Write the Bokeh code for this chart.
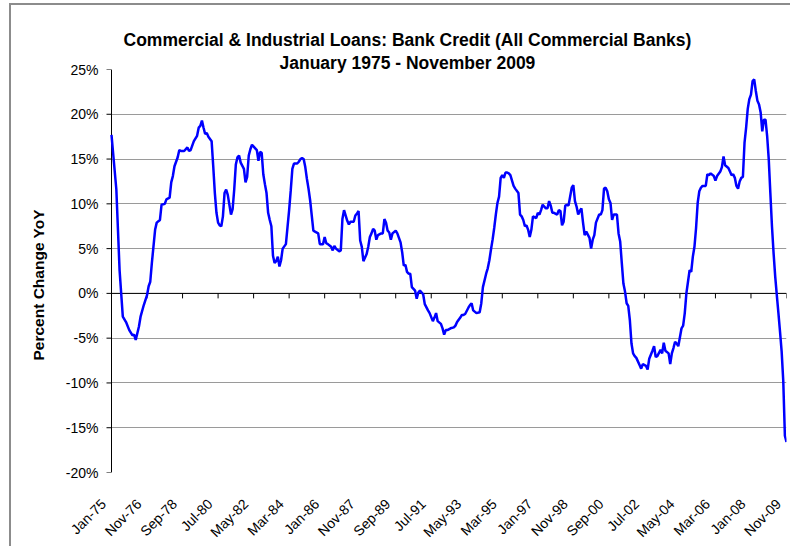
from math import pi
from bokeh.plotting import figure
from bokeh.models import Range1d, FixedTicker, Title, Grid, BoxAnnotation
from bokeh.embed import file_html
from bokeh.resources import INLINE

# ---- data: C&I loans, % change YoY (months since Jan 1975) ----
month_index = [
    0, 3, 4, 5, 6, 7, 9, 11, 13, 14, 15, 17, 18, 20, 22, 23, 24, 25, 27, 28,
    30, 31, 33, 34, 36, 37, 38, 39, 41, 42, 43, 45, 47, 48, 49, 51, 53, 54, 55, 56,
    57, 58, 59, 60, 62, 63, 64, 65, 66, 67, 68, 69, 70, 71, 72, 74, 75, 76, 77, 78,
    79, 80, 82, 83, 84, 85, 86, 87, 89, 90, 91, 92, 93, 94, 95, 96, 97, 98, 99, 100,
    101, 102, 103, 104, 105, 106, 108, 109, 110, 111, 112, 113, 115, 116, 117, 118, 119, 120, 121, 122,
    123, 124, 125, 126, 128, 129, 131, 132, 133, 134, 136, 137, 138, 139, 141, 142, 143, 144, 146, 147,
    148, 150, 151, 152, 153, 154, 155, 156, 158, 159, 160, 161, 162, 163, 164, 165, 167, 168, 169, 170,
    171, 172, 173, 174, 176, 177, 179, 180, 181, 182, 183, 184, 185, 186, 188, 189, 190, 191, 193, 194,
    196, 197, 199, 200, 201, 202, 204, 205, 206, 207, 208, 210, 212, 213, 214, 216, 217, 218, 219, 221,
    222, 223, 224, 226, 228, 229, 230, 232, 233, 234, 235, 236, 237, 238, 239, 240, 241, 242, 243, 244,
    245, 246, 247, 249, 250, 252, 253, 254, 255, 256, 257, 258, 259, 260, 261, 263, 264, 265, 266, 267,
    269, 270, 271, 272, 273, 274, 276, 277, 278, 279, 280, 281, 282, 283, 285, 286, 287, 288, 289, 290,
    291, 292, 293, 294, 296, 297, 298, 299, 300, 302, 303, 304, 305, 306, 307, 308, 309, 310, 311, 313,
    314, 315, 316, 317, 318, 319, 320, 321, 322, 323, 324, 325, 327, 328, 329, 331, 332, 333, 335, 336,
    337, 338, 340, 341, 342, 343, 345, 346, 347, 348, 349, 350, 351, 352, 353, 354, 355, 356, 357, 358,
    359, 360, 361, 362, 363, 364, 365, 366, 368, 369, 370, 371, 373, 374, 375, 377, 378, 379, 380, 382,
    383, 384, 385, 386, 387, 388, 389, 390, 391, 392, 393, 394, 395, 396, 397, 398, 399, 400, 401, 402,
    403, 404, 405, 406, 407, 408, 409, 410, 411, 412, 413, 414, 415, 416, 417, 418,
]
yoy_pct = [
    17.7, 11.6, 7.1, 2.6, 0.0, -2.6, -3.2, -4.1, -4.7, -4.6, -5.2, -3.7, -2.6, -1.3, -0.2, 0.8, 1.3, 3.4, 7.1, 7.9,
    8.2, 9.9, 10.0, 10.5, 10.7, 12.4, 13.1, 14.2, 15.2, 16.0, 15.9, 15.9, 16.3, 15.9, 16.0, 17.0, 17.6, 18.5, 18.7, 19.3,
    18.5, 17.8, 17.9, 17.5, 17.0, 14.2, 11.2, 9.0, 7.9, 7.6, 7.5, 8.6, 11.2, 11.6, 11.0, 8.8, 9.4, 11.6, 14.4, 15.2,
    15.4, 14.6, 13.9, 12.4, 13.0, 15.4, 16.1, 16.6, 16.2, 16.0, 14.8, 15.8, 15.7, 13.3, 12.2, 11.2, 9.0, 8.2, 7.5, 4.2,
    3.4, 3.6, 4.1, 3.0, 3.7, 5.0, 5.5, 7.4, 9.3, 11.5, 13.9, 14.5, 14.5, 14.7, 15.0, 15.1, 15.0, 14.1, 12.8, 11.7,
    10.4, 8.7, 7.0, 6.9, 6.7, 5.5, 5.5, 6.3, 5.6, 5.5, 5.2, 4.8, 5.3, 5.0, 4.7, 4.8, 8.3, 9.3, 8.1, 7.7,
    8.0, 8.0, 8.7, 8.9, 9.2, 5.9, 5.2, 3.6, 4.4, 5.2, 6.3, 6.7, 7.2, 7.0, 6.0, 6.5, 6.7, 6.7, 8.3, 7.9,
    7.0, 6.8, 6.0, 6.7, 7.0, 6.7, 5.7, 4.6, 3.1, 3.2, 2.4, 2.2, 2.2, 0.7, 0.3, -0.6, 0.1, 0.3, -0.1, -1.2,
    -1.9, -2.2, -3.1, -2.7, -2.2, -3.1, -3.4, -3.9, -4.6, -4.1, -4.1, -3.9, -3.8, -3.6, -3.2, -2.7, -2.4, -2.4, -2.3, -1.6,
    -1.3, -1.1, -1.9, -2.2, -2.1, -1.1, 0.7, 2.2, 2.8, 3.7, 4.9, 6.0, 7.3, 8.8, 10.1, 10.8, 12.9, 13.2, 12.9, 13.5,
    13.5, 13.4, 13.2, 12.0, 11.7, 11.2, 8.8, 8.6, 8.2, 7.5, 7.6, 7.1, 6.3, 7.1, 8.6, 8.4, 9.0, 8.8, 9.3, 9.9,
    9.5, 9.5, 10.3, 9.8, 9.0, 9.0, 8.8, 9.3, 9.2, 7.6, 8.0, 9.8, 9.9, 9.8, 11.8, 12.1, 10.3, 9.7, 8.8, 9.2,
    9.5, 7.9, 6.5, 6.9, 6.2, 5.0, 6.0, 6.5, 7.9, 8.8, 8.8, 9.3, 11.7, 11.8, 11.4, 10.5, 10.1, 8.2, 8.8, 8.8,
    6.7, 5.8, 3.4, 1.1, 0.2, -1.1, -1.4, -3.0, -5.6, -6.7, -7.0, -7.2, -8.0, -8.4, -7.9, -8.1, -8.5, -7.3, -6.4, -5.9,
    -7.1, -7.0, -6.3, -6.7, -5.5, -6.4, -6.7, -7.9, -6.7, -6.1, -5.4, -5.6, -5.9, -4.9, -3.9, -3.6, -2.2, 0.0, 1.3, 2.6,
    2.4, 4.1, 5.2, 7.3, 10.1, 11.4, 11.8, 12.0, 12.0, 13.3, 13.2, 13.4, 13.1, 12.6, 13.1, 13.6, 14.1, 15.3, 14.3, 14.0,
    13.6, 13.2, 13.3, 12.9, 12.0, 11.7, 12.5, 12.9, 13.0, 16.8, 18.5, 20.6, 21.7, 22.2, 23.7, 23.9, 22.6, 21.5, 21.1, 20.2,
    18.1, 19.4, 19.4, 17.6, 15.0, 11.2, 7.5, 4.5, 1.9, -0.2, -2.2, -4.3, -6.5, -9.8, -15.9, -16.6,
]
tick_labels = ["Jan-75", "Nov-76", "Sep-78", "Jul-80", "May-82", "Mar-84", "Jan-86",
               "Nov-87", "Sep-89", "Jul-91", "May-93", "Mar-95", "Jan-97", "Nov-98",
               "Sep-00", "Jul-02", "May-04", "Mar-06", "Jan-08", "Nov-09"]
tick_step = 22
y_ticks = [-20, -15, -10, -5, 0, 5, 10, 15, 20, 25]

title_1 = "Commercial & Industrial Loans: Bank Credit (All Commercial Banks)"
title_2 = "January 1975 - November 2009"
y_title = "Percent Change YoY"

FONT = "Liberation Sans"
OX, OY = 11, 5                      # canvas offset inside the page (outer border)
W, H = 792 - OX, 548 - OY
AX, FR, FT, FB = 100, 775, 64, 467  # y-axis x, frame right/top/bottom (canvas px)
PAD = 9                             # extra frame room left of the y axis (for labels)
LABEL_SHIFT = 8                     # x labels end a little left of their tick
TICK = 5                            # tick mark length, px
x_end = tick_step * (len(tick_labels) - 1)
x_ticks = [i * tick_step for i in range(len(tick_labels))]
px_per_x = (FR - AX) / x_end
px_per_y = (FB - FT) / (y_ticks[-1] - y_ticks[0])
x_lo = -PAD / px_per_x

p = figure(width=W, height=H, output_backend="svg", toolbar_location=None, tools="",
           x_range=Range1d(x_lo, x_end), y_range=Range1d(y_ticks[0], y_ticks[-1]),
           min_border_left=AX - PAD, min_border_right=W - FR, min_border_top=FT,
           min_border_bottom=H - FB)
p.styles = {"margin-left": "9px", "margin-top": "3px",
            "border-left": "2px solid #8c8c8c", "border-top": "2px solid #8c8c8c"}
p.background_fill_color = "white"
p.border_fill_color = "white"
p.outline_line_color = None
p.xgrid.visible = False
p.ygrid.ticker = FixedTicker(ticks=y_ticks[1:-1])
p.ygrid.grid_line_color = "#9a9a9a"
p.ygrid.grid_line_width = 1
p.add_layout(Grid(dimension=1, ticker=FixedTicker(ticks=[y_ticks[0], y_ticks[-1]]),
                  grid_line_color="#e2e2e2", grid_line_width=1))
# blank strip left of the y axis (frame room used only by the first x label)
p.add_layout(BoxAnnotation(right=0, fill_color="white", fill_alpha=1.0,
                           line_color=None, level="underlay"))

# x labels: rotated 45 degrees below the plot area
label_pos = [t - LABEL_SHIFT / px_per_x for t in x_ticks]
xa = p.xaxis[0]
xa.ticker = FixedTicker(ticks=label_pos)
xa.major_label_overrides = {t: lab for t, lab in zip(label_pos, tick_labels)}
xa.major_label_orientation = pi / 4
xa.axis_line_color = None
xa.major_tick_line_color = None
xa.minor_tick_line_color = None
xa.major_tick_out = 0
xa.major_tick_in = 0
xa.major_label_standoff = 29
xa.major_label_text_font = FONT
xa.major_label_text_font_size = "14px"
xa.major_label_text_color = "black"

# y labels (axis line and ticks are drawn at x = 0 below)
ya = p.yaxis[0]
ya.ticker = FixedTicker(ticks=y_ticks)
ya.major_label_overrides = {t: f"{t}%" for t in y_ticks}
ya.axis_line_color = None
ya.major_tick_line_color = None
ya.minor_tick_line_color = None
ya.major_tick_out = 0
ya.major_tick_in = 0
ya.major_label_standoff = 4
ya.major_label_text_font = FONT
ya.major_label_text_font_size = "14px"
ya.major_label_text_color = "black"

# value axis line + ticks at x = 0; category axis line at y = 0 with downward ticks
p.segment(x0=[0], x1=[0], y0=[y_ticks[0]], y1=[y_ticks[-1]], line_color="black", line_width=1)
p.segment(x0=[-TICK / px_per_x] * len(y_ticks), x1=[0] * len(y_ticks), y0=y_ticks, y1=y_ticks,
          line_color="black", line_width=1)
p.segment(x0=[0], x1=[x_end], y0=[0], y1=[0], line_color="black", line_width=1)
p.segment(x0=x_ticks, x1=x_ticks, y0=[0] * len(x_ticks),
          y1=[-TICK / px_per_y] * len(x_ticks), line_color="black", line_width=1)

p.line(month_index, yoy_pct, line_color="#0000ff", line_width=2.5)

# titles (left-aligned with offsets so that both lines centre at page x ~407)
p.add_layout(Title(text=title_2, align="left", offset=168 + PAD, standoff=-7,
                   text_font=FONT, text_font_style="bold", text_font_size="17.5px",
                   text_color="black"), "above")
p.add_layout(Title(text=title_1, align="left", offset=12 + PAD, standoff=10,
                   text_font=FONT, text_font_style="bold", text_font_size="17.5px",
                   text_color="black"), "above")
p.add_layout(Title(text=y_title, align="left", offset=112, standoff=32,
                   text_font=FONT, text_font_style="bold", text_font_size="15.5px",
                   text_color="black"), "left")

open("out.html", "w").write(file_html(p, INLINE))
